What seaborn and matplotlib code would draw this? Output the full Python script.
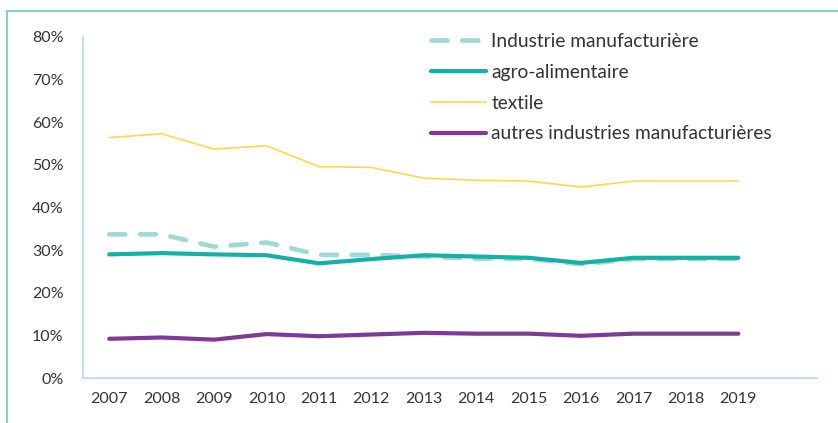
import matplotlib
matplotlib.use("Agg")
import matplotlib.pyplot as plt
import seaborn as sns
import pandas as pd
from matplotlib.patches import Rectangle
from matplotlib.ticker import FuncFormatter

years = [2007, 2008, 2009, 2010, 2011, 2012, 2013, 2014, 2015, 2016, 2017, 2018, 2019]
industrie = [33.7, 33.7, 30.8, 31.8, 28.9, 28.9, 28.5, 28.0, 28.0, 26.7, 27.9, 27.9, 27.9]
agro = [29.0, 29.3, 29.0, 28.8, 26.9, 27.9, 28.8, 28.5, 28.2, 27.0, 28.2, 28.2, 28.2]
textile = [56.4, 57.3, 53.7, 54.5, 49.6, 49.4, 46.9, 46.4, 46.2, 44.8, 46.2, 46.2, 46.2]
autres = [9.2, 9.5, 9.0, 10.3, 9.8, 10.2, 10.6, 10.4, 10.4, 9.9, 10.4, 10.4, 10.4]
labels = ["Industrie manufacturière", "agro-alimentaire", "textile",
          "autres industries manufacturières"]

sns.set_theme(style="white")
plt.rcParams['font.family'] = ['Lato', 'DejaVu Sans']

fig = plt.figure(figsize=(8.38, 4.23), dpi=100)
ax = fig.add_axes([83/838, 1-378/423, (817-83)/838, (378-37)/423])

series = [
    (labels[0], industrie, dict(color="#9dd9d5", lw=3.3, dashes=(3.5, 3.2))),
    (labels[1], agro, dict(color="#13b1a7", lw=3.0)),
    (labels[2], textile, dict(color="#f7dc4a", lw=1.2)),
    (labels[3], autres, dict(color="#7e3a95", lw=3.0)),
]
for name, vals, st in series:
    df = pd.DataFrame({"x": list(range(len(years))), "y": [v/100 for v in vals]})
    sns.lineplot(data=df, x="x", y="y", ax=ax, label=name,
                 color=st["color"], linewidth=st["lw"])
    ln = ax.lines[-1]
    if "dashes" in st:
        ln.set_dashes(st["dashes"])
        ln.set_dash_capstyle("round")
    else:
        ln.set_solid_capstyle("round")

ax.set_xlim(-0.5, 13.5)
ax.set_ylim(0, 0.8)
ax.set_xticks(range(len(years)))
ax.set_xticklabels([str(y) for y in years])
ax.set_yticks([i/10 for i in range(9)])
ax.yaxis.set_major_formatter(FuncFormatter(lambda v, p: f"{v*100:.0f}%"))
ax.set_xlabel("")
ax.set_ylabel("")
for s in ["top", "right"]:
    ax.spines[s].set_visible(False)
for s in ["left", "bottom"]:
    ax.spines[s].set_color("#b5e2de")
    ax.spines[s].set_linewidth(1.3)
ax.tick_params(axis="both", length=0, labelsize=11.5, colors="#333333")
ax.tick_params(axis="y", pad=14)
ax.tick_params(axis="x", pad=10)

handles, labs = ax.get_legend_handles_labels()
leg = ax.legend(handles, labs, loc="upper left", bbox_to_anchor=(431/838, 1-33/423),
                bbox_transform=fig.transFigure, frameon=False, fontsize=13.8,
                handlelength=2.85, handletextpad=0.3, labelspacing=0.72,
                borderaxespad=0, borderpad=0)
for t in leg.get_texts():
    t.set_color("#333333")

fig.patches.append(Rectangle((7/838, -0.1), 1.2, 1-11/423+0.1, transform=fig.transFigure,
                             fill=False, edgecolor="#7ccfc9", linewidth=1.3))

fig.savefig("out.png", dpi=100)
